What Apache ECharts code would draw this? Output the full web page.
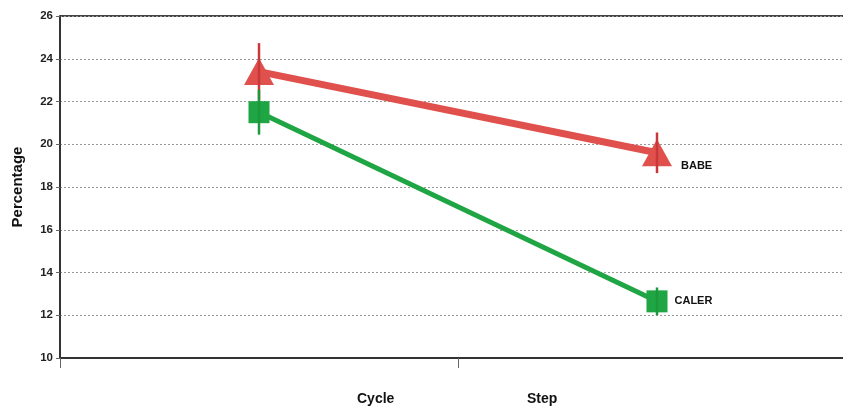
<!DOCTYPE html>
<html>
<head>
<meta charset="utf-8">
<style>
  html, body { margin: 0; padding: 0; background: #fff; }
  #chart { width: 843px; height: 409px; }
</style>
<script src="https://cdn.jsdelivr.net/npm/echarts@6/dist/echarts.min.js"></script>
</head>
<body>
<div id="chart"></div>
<script>
// Two measurement points per group
const categories = ['Cycle', 'Step'];
const babeValues = [23.4, 19.6];
const babeErrors = [1.33, 0.95];
const calerValues = [21.5, 12.65];
const calerErrors = [1.05, 0.65];
const yTicks = { min: 10, max: 26, step: 2 };
const axisTitles = ['Cycle', 'Step'];

const RED = '#e0504c';
const GREEN = '#1fa543';

function errorSeries(values, errors, color) {
  return {
    type: 'custom',
    z: 5,
    data: values.map((v, i) => [i, v - errors[i], v + errors[i]]),
    renderItem: function (params, api) {
      const lo = api.coord([api.value(0), api.value(1)]);
      const hi = api.coord([api.value(0), api.value(2)]);
      return {
        type: 'line',
        shape: { x1: lo[0], y1: lo[1], x2: hi[0], y2: hi[1] },
        style: { stroke: color, lineWidth: 2.5 }
      };
    },
    silent: true
  };
}

const chart = echarts.init(document.getElementById('chart'), null, { renderer: 'canvas' });
chart.setOption({
  animation: false,
  backgroundColor: '#ffffff',
  textStyle: { fontFamily: 'Liberation Sans, Arial, sans-serif' },
  grid: { left: 60, width: 796, top: 16, height: 342, outerBoundsMode: 'none', containLabel: false },
  xAxis: {
    type: 'category',
    data: categories,
    boundaryGap: true,
    axisLine: { lineStyle: { color: '#333', width: 2 } },
    axisTick: { show: true, length: 10, lineStyle: { color: '#666', width: 1 } },
    axisLabel: { show: false },
    splitLine: { show: false }
  },
  yAxis: {
    type: 'value',
    min: yTicks.min,
    max: yTicks.max,
    interval: yTicks.step,
    name: 'Percentage',
    nameLocation: 'middle',
    nameGap: 35,
    nameRotate: 90,
    nameTextStyle: { fontSize: 15, fontWeight: 'bold', color: '#111' },
    axisLine: { show: true, lineStyle: { color: '#333', width: 2 } },
    axisTick: { show: true, length: 4, lineStyle: { color: '#666' } },
    axisLabel: { fontSize: 11.5, fontWeight: 'bold', color: '#222', margin: 7 },
    splitLine: { show: true, lineStyle: { color: '#999', type: [2, 2], width: 1 } }
  },
  series: [
    {
      name: 'BABE',
      type: 'line',
      data: babeValues,
      symbol: 'triangle',
      symbolSize: [30, 27],
      lineStyle: { color: RED, width: 7 },
      itemStyle: { color: RED },
      z: 3,
      label: {
        show: true,
        formatter: p => p.dataIndex === babeValues.length - 1 ? 'BABE' : '',
        position: 'right',
        distance: 9,
        offset: [0, 13],
        fontSize: 11,
        fontWeight: 'bold',
        color: '#111'
      }
    },
    {
      name: 'CALER',
      type: 'line',
      data: calerValues,
      symbol: 'rect',
      symbolSize: [21, 22],
      lineStyle: { color: GREEN, width: 5 },
      itemStyle: { color: GREEN },
      z: 3,
      label: {
        show: true,
        formatter: p => p.dataIndex === calerValues.length - 1 ? 'CALER' : '',
        position: 'right',
        distance: 7,
        offset: [0, 0],
        fontSize: 11,
        fontWeight: 'bold',
        color: '#111'
      }
    },
    errorSeries(babeValues, babeErrors, '#c8383a'),
    errorSeries(calerValues, calerErrors, '#1a9a3c')
  ],
  graphic: [
    { type: 'line', shape: { x1: 60, y1: 16, x2: 843, y2: 16 }, style: { stroke: '#444', lineWidth: 2 } },
    { type: 'text', left: 357, top: 392, style: { text: axisTitles[0], font: 'bold 14px "Liberation Sans", Arial, sans-serif', fill: '#111' } },
    { type: 'text', left: 527, top: 392, style: { text: axisTitles[1], font: 'bold 14px "Liberation Sans", Arial, sans-serif', fill: '#111' } }
  ]
});
</script>
</body>
</html>
